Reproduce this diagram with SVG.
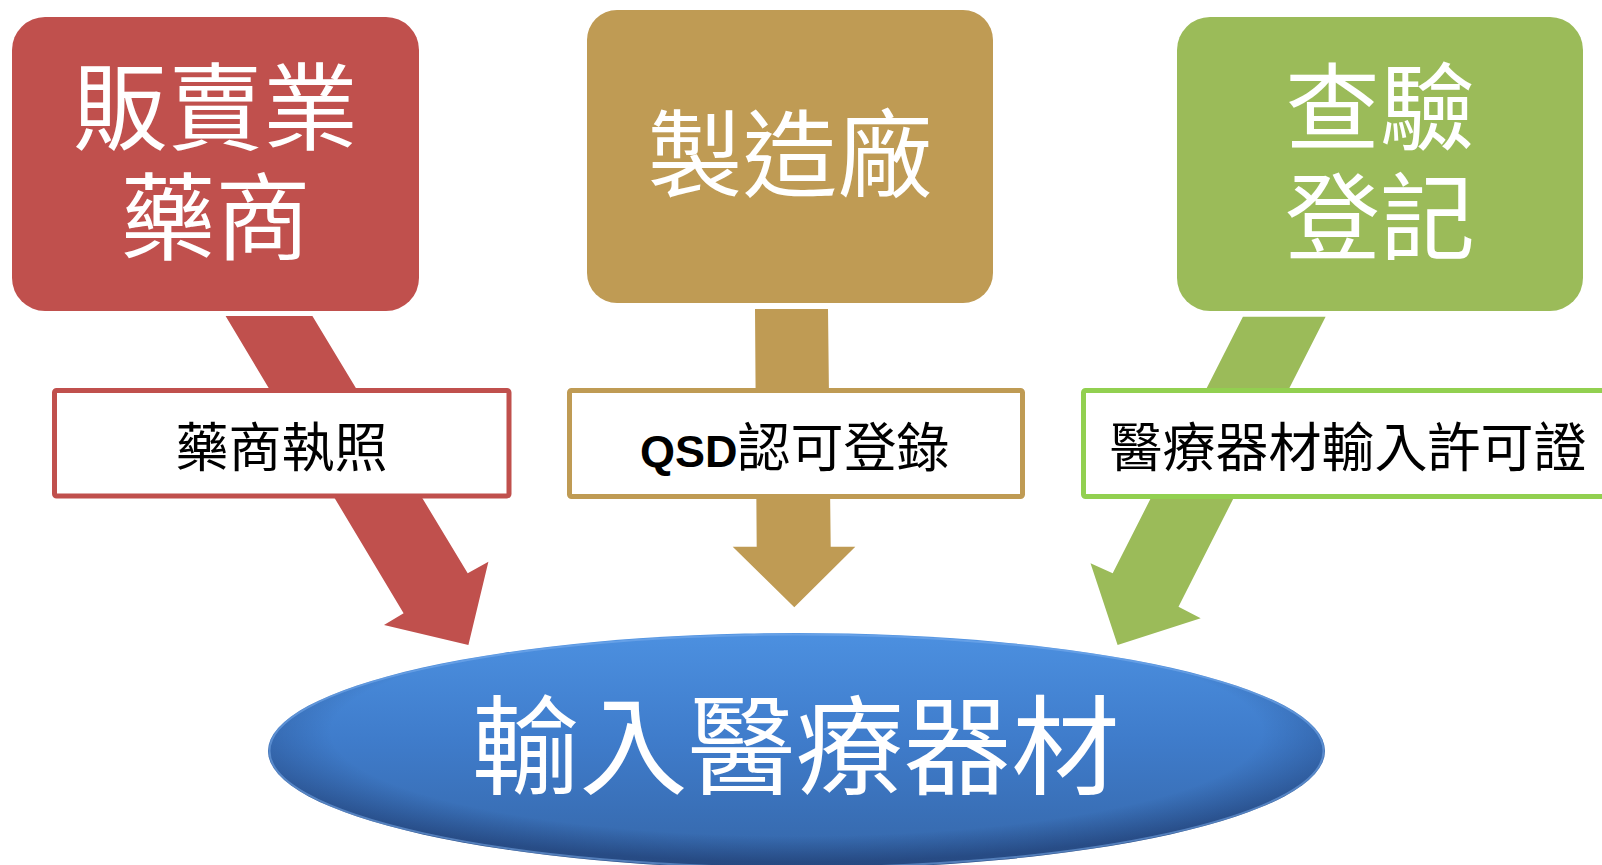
<svg xmlns="http://www.w3.org/2000/svg" width="1602" height="865" viewBox="0 0 1602 865">
<style>
.nodeText{font-family:"Liberation Serif","Noto Sans CJK TC",serif;fill:#FFFFFF;font-size:95px;text-anchor:middle}
.bigText{font-family:"Liberation Serif","Noto Sans CJK TC",serif;fill:#FFFFFF;font-size:108px;text-anchor:middle}
.labelText{font-family:"Liberation Sans","Noto Sans CJK TC",sans-serif;fill:#000000;font-size:53px;text-anchor:middle}
.labelBox{fill:#FFFFFF;stroke-width:5}
</style>
<defs>
<linearGradient id="blueFill" x1="0" y1="0" x2="0" y2="1">
<stop offset="0" stop-color="#4C90E0"/>
<stop offset="0.45" stop-color="#3F7CCB"/>
<stop offset="1" stop-color="#3566A8"/>
</linearGradient>
<radialGradient id="edgeShade" cx="0.5" cy="0.42" r="0.55">
<stop offset="0.8" stop-color="#000020" stop-opacity="0"/>
<stop offset="1" stop-color="#000020" stop-opacity="0.28"/>
</radialGradient>
</defs>
<g id="connectors">
<polygon fill="#C0504D" points="225.6,316 312.4,316 467.7,573.3 488.4,561.7 468.4,645 384,625 403.6,613.3"/>
<polygon fill="#BF9B54" points="755,309 828,309 830.7,546.7 855.3,546.7 794.3,607.3 732.7,546.7 756.7,546.7"/>
<polygon fill="#9BBB59" points="1242.9,316.7 1325.6,316.7 1178.5,606.7 1200.7,618.3 1117.6,645 1090.5,563.3 1112.7,573.3"/>
</g>
<g id="label-red">
<rect class="labelBox" x="54.5" y="390.5" width="454.5" height="105.5" rx="2" stroke="#C0504D"/>
<text class="labelText" x="281.5" y="467">藥商執照</text>
</g>
<g id="label-gold">
<rect class="labelBox" x="569.5" y="390.5" width="453" height="106" rx="2" stroke="#BF9B54"/>
<text class="labelText" x="640" y="467" style="text-anchor:start"><tspan font-weight="bold" style="font-size:45px">QSD</tspan><tspan>認可登錄</tspan></text>
</g>
<g id="label-green">
<rect class="labelBox" x="1083.5" y="390.5" width="540" height="106" rx="2" stroke="#92D050"/>
<text class="labelText" x="1348" y="467">醫療器材輸入許可證</text>
</g>
<g id="node-seller">
<rect x="12" y="17" width="407" height="294" rx="33" fill="#C0504D"/>
<text class="nodeText" x="215.5" y="143">販賣業</text>
<text class="nodeText" x="215.5" y="252.5">藥商</text>
</g>
<g id="node-factory">
<rect x="587" y="10" width="406" height="293" rx="30" fill="#BF9B54"/>
<text class="nodeText" x="790" y="189.5">製造廠</text>
</g>
<g id="node-inspection">
<rect x="1177" y="17" width="406" height="294" rx="33" fill="#9BBB59"/>
<text class="nodeText" x="1380" y="143">查驗</text>
<text class="nodeText" x="1380" y="252.5">登記</text>
</g>
<g id="node-import">
<ellipse cx="796.5" cy="751" rx="528.5" ry="118" fill="url(#blueFill)"/>
<ellipse cx="796.5" cy="751" rx="528.5" ry="118" fill="url(#edgeShade)"/>
<ellipse cx="796.5" cy="751" rx="527" ry="116.5" fill="none" stroke="#7FB2F0" stroke-opacity="0.5" stroke-width="2"/>
<text class="bigText" x="795.5" y="786">輸入醫療器材</text>
</g>
</svg>
